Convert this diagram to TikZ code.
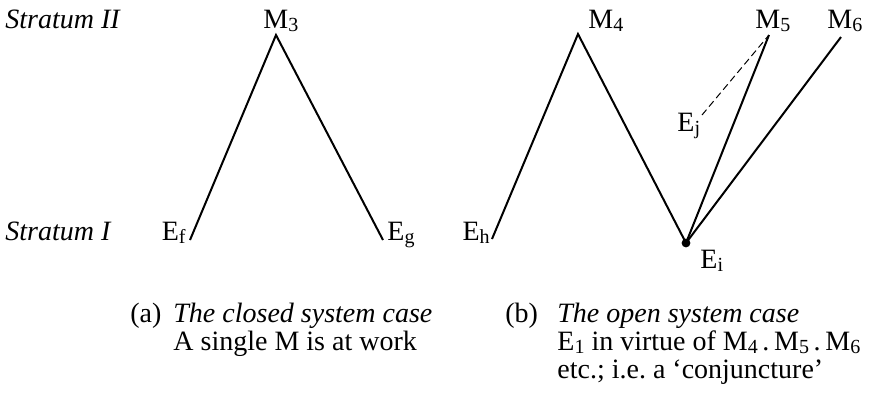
\documentclass[tikz,border=0pt]{standalone}
\usepackage{fontspec}
\setmainfont{Liberation Serif}
\usetikzlibrary{positioning}
\newcommand\ix[1]{\raisebox{-0.25ex}{\fontsize{10}{10}\selectfont #1}}

\begin{document}
\begin{tikzpicture}[
  x=0.5pt, y=-0.5pt,
  every node/.style={inner sep=0pt, font=\fontsize{14}{14}\selectfont},
  stratum/.style={anchor=base west, font=\fontsize{14}{14}\selectfont\itshape},
  lbl/.style={anchor=base west},
  leg/.style={line width=1pt, line join=miter},
  link/.style={line width=0.5pt, dash pattern=on 3.5pt off 2pt},
  tag/.style={anchor=base west},
  capbody/.style={anchor=base west, align=left}
]
\useasboundingbox (0,0) rectangle (873,393);

% strata
\node[stratum] (s2) at (5,28) {Stratum II};
\node[stratum] (s1) at (5,240) {Stratum I};

% (a) closed system
\coordinate (m3) at (276,35);
\coordinate (ef) at (190,240);
\coordinate (eg) at (383,240);
\node[lbl] (m3l) at (263,28) {M\ix{3}};
\node[anchor=base east] (efl) at (186,240) {E\ix{f}};
\node[lbl] (egl) at (387,240) {E\ix{g}};
\draw[leg] (ef) -- (m3) -- (eg);

% (b) open system
\coordinate (m4) at (578,34);
\coordinate (m5) at (769,35);
\coordinate (m6) at (841,37);
\coordinate (eh) at (492,239);
\coordinate (ei) at (686,243);
\coordinate (ej) at (702,115);
\node[lbl] (m4l) at (588,28) {M\ix{4}};
\node[lbl] (m5l) at (755,28) {M\ix{5}};
\node[lbl] (m6l) at (827,28) {M\ix{6}};
\node[anchor=base east] (ehl) at (490,240) {E\ix{h}};
\node[lbl] (eil) at (700,268) {E\ix{i}};
\node[lbl] (ejl) at (677,131) {E\ix{j}};
\draw[leg] (eh) -- (m4) -- (ei) -- (m5);
\draw[leg] (ei) -- (m6);
\draw[link] (ej) -- (m5);
\fill (ei) circle (2.2pt);

% captions (base = last line)
\node[tag] (capa) at (130,322) {(a)};
\node[capbody] (capat) at (173,350) {\textit{The closed system case}\\A single M is at work};
\node[tag] (capb) at (505,322) {(b)};
\node[capbody] (capbt) at (557,378) {\textit{The open system case}\\E\ix{1} in virtue of M\ix{4}\,.\,M\ix{5}\,.\,M\ix{6}\\etc.; i.e.\ a `conjuncture'};

\end{tikzpicture}
\end{document}
